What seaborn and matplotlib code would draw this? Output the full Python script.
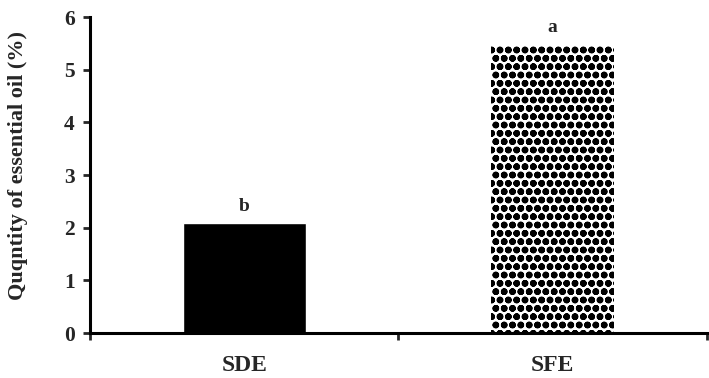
import matplotlib
matplotlib.use('Agg')
import matplotlib.pyplot as plt
import seaborn as sns
import pandas as pd
import numpy as np

# 数据
methods = ['SDE', 'SFE']
oil_pct = [2.08, 5.47]
letters = ['b', 'a']

df = pd.DataFrame({'method': methods, 'oil': oil_pct})

sns.set_style('white')
plt.rcParams['font.family'] = ['Liberation Serif', 'DejaVu Serif']
plt.rcParams['font.weight'] = 'bold'
plt.rcParams['hatch.linewidth'] = 2.4

fig = plt.figure(figsize=(7.09, 3.78), dpi=100)
ax = fig.add_axes([0.127, 0.119, 0.870, 0.836])

sns.barplot(data=df, x='method', y='oil', ax=ax, width=0.4,
            color='black', saturation=1)

# 第二根柱子改成点状填充
bar2 = ax.patches[1]
bar2.set_facecolor('white')
bar2.set_edgecolor('black')
bar2.set_linewidth(0)
bar2.set_hatch('oo')

# 显著性字母
for i, (v, t) in enumerate(zip(oil_pct, letters)):
    ax.text(i, v + 0.17, t, ha='center', va='bottom', fontsize=14, fontweight='bold')

ax.set_xlim(-0.5, 1.5)
ax.set_ylim(0, 6)
ax.set_yticks(range(0, 7))
ax.set_xlabel('')
ax.set_ylabel('Quqntity of essential oil (%)', fontsize=16, fontweight='bold')
ax.yaxis.set_label_coords(-0.10, 0.53)

for s in ['top', 'right']:
    ax.spines[s].set_visible(False)
for s in ['left', 'bottom']:
    ax.spines[s].set_linewidth(2.2)
    ax.spines[s].set_color('black')

ax.tick_params(axis='y', direction='out', length=5, width=2, left=True,
               labelsize=15.5, pad=6)
ax.tick_params(axis='x', which='major', length=0, labelsize=17, pad=16)
ax.set_xticks([-0.5, 0.5, 1.5], minor=True)
ax.tick_params(axis='x', which='minor', direction='out', length=5, width=2, bottom=True)
for lab in ax.get_xticklabels() + ax.get_yticklabels():
    lab.set_fontweight('bold')

fig.savefig('out.png', dpi=100)
